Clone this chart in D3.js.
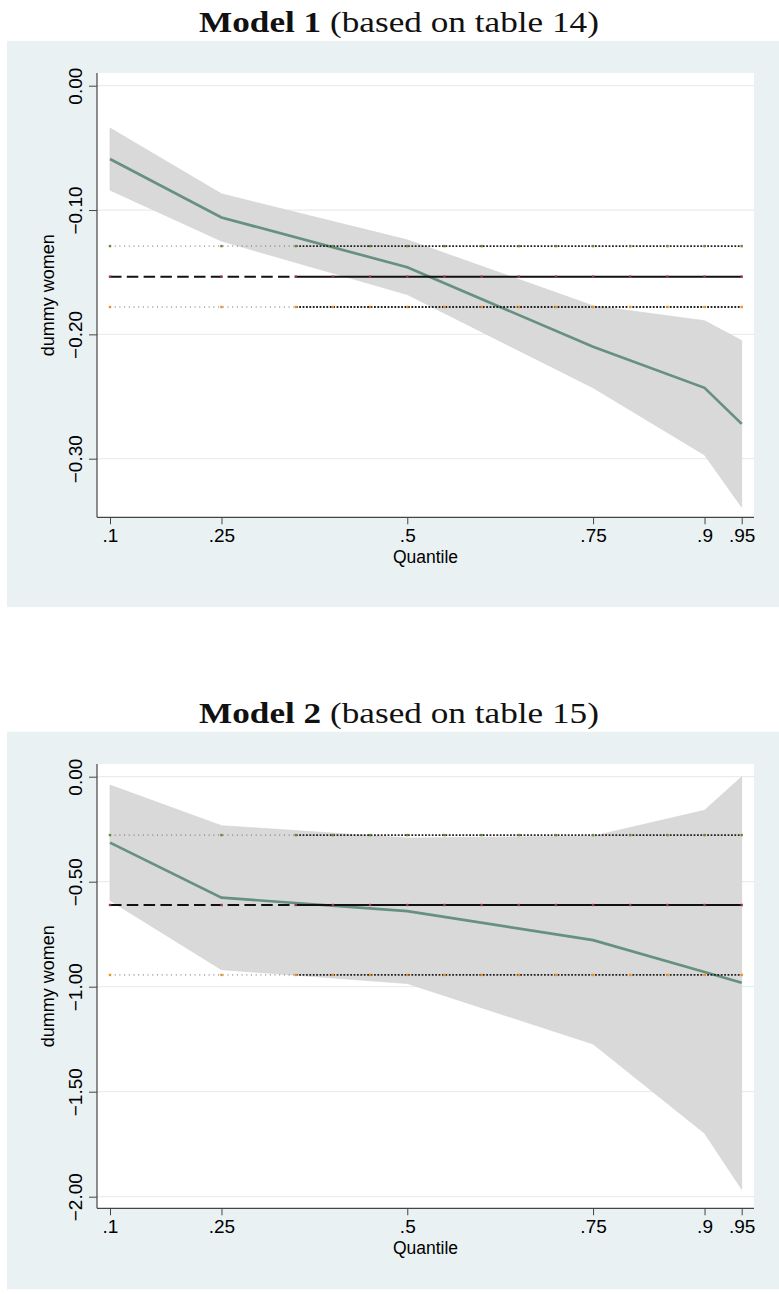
<!DOCTYPE html>
<html><head><meta charset="utf-8">
<script src="https://cdn.jsdelivr.net/npm/d3@7"></script>
<style>body{margin:0;background:#fff}svg{display:block}</style>
</head><body>
<svg id="c" width="779" height="1294"></svg>
<script>
// ---------- data ----------
const quantiles = [0.1, 0.25, 0.5, 0.75, 0.9, 0.95];
const xTickLabels = [".1", ".25", ".5", ".75", ".9", ".95"];
const olsGrid = [0.1, 0.25, 0.35, 0.4, 0.45, 0.5, 0.55, 0.6, 0.65, 0.7, 0.75, 0.8, 0.85, 0.9, 0.95];

const m1Coef  = [-0.059, -0.106, -0.146, -0.210, -0.243, -0.272];
const m1Upper = [-0.034, -0.087, -0.124, -0.177, -0.189, -0.205];
const m1Lower = [-0.084, -0.125, -0.168, -0.243, -0.297, -0.339];
const m1Ols = [-0.1536, -0.129, -0.178];      // estimate, upper, lower
const m1YTicks = [0, -0.1, -0.2, -0.3];
const m1YLabels = ["0.00", "\u22120.10", "\u22120.20", "\u22120.30"];

const m2Coef  = [-0.314, -0.576, -0.640, -0.778, -0.930, -0.981];
const m2Upper = [-0.040, -0.233, -0.292, -0.283, -0.160, 0.000];
const m2Lower = [-0.590, -0.919, -0.985, -1.273, -1.698, -1.965];
const m2Ols = [-0.611, -0.278, -0.944];
const m2YTicks = [0, -0.5, -1, -1.5, -2];
const m2YLabels = ["0.00", "\u22120.50", "\u22121.00", "\u22121.50", "\u22122.00"];

const titles = [
  {bold: "Model 1", rest: " (based on table 14)"},
  {bold: "Model 2", rest: " (based on table 15)"}
];

// ---------- drawing ----------
const svg = d3.select("#c");
const BG = "#eaf1f3", GRID = "#e6eef1", BAND = "#d9d9d9", COEF = "#66907f";
const SANS = "'Liberation Sans', Arial, sans-serif";

function panel(o) {
  const g = svg.append("g");
  // title
  const t = g.append("text").attr("font-family", "'Liberation Serif', 'Times New Roman', serif")
    .attr("font-size", 30).attr("fill", "#111").attr("y", o.titleY);
  t.append("tspan").attr("font-weight", "bold").text(o.title.bold);
  t.append("tspan").text(o.title.rest);
  const w = t.node().getComputedTextLength();
  const sx = 400 / w;
  t.attr("transform", `translate(${399 - 200},0) scale(${sx},1)`).attr("x", 0);

  // background
  g.append("rect").attr("x", 7).attr("y", o.bgTop).attr("width", 772).attr("height", o.bgBottom - o.bgTop).attr("fill", BG);
  const L = 97, R = 754, T = o.plotTop, B = o.plotBottom;
  g.append("rect").attr("x", L).attr("y", T).attr("width", R - L).attr("height", B - T).attr("fill", "#fff");

  const x = d3.scaleLinear().domain([0.1, 0.95]).range([110, 741.7]);
  const y = d3.scaleLinear().domain(o.yDom).range(o.yRange);

  // grid
  g.append("g").selectAll("line").data(o.yTicks).join("line")
    .attr("x1", L).attr("x2", R).attr("y1", d => y(d)).attr("y2", d => y(d))
    .attr("stroke", GRID).attr("stroke-width", 1.3);

  // CI band
  const area = d3.area().x((d, i) => x(quantiles[i])).y0((d, i) => y(o.lower[i])).y1(d => y(d));
  g.append("path").datum(o.upper).attr("d", area).attr("fill", BAND).attr("stroke", "#d2d2d2").attr("stroke-width", 0.6);

  // coefficient line
  const line = d3.line().x((d, i) => x(quantiles[i])).y(d => y(d));
  g.append("path").datum(o.coef).attr("d", line).attr("fill", "none").attr("stroke", COEF).attr("stroke-width", 2.7);

  // OLS lines: sparse pattern until .35, dense afterwards
  const split = olsGrid[2];
  const ols = [
    {v: o.ols[1], c: "#5e8a3a", kind: "dot"},
    {v: o.ols[0], c: "#9a3a48", kind: "dash"},
    {v: o.ols[2], c: "#ee9020", kind: "dot"}
  ];
  ols.forEach(s => {
    const yy = y(s.v);
    if (s.kind === "dash") {
      g.append("line").attr("x1", x(0.1)).attr("x2", x(split)).attr("y1", yy).attr("y2", yy)
        .attr("stroke", "#111").attr("stroke-width", 2).attr("stroke-dasharray", "11.5,5.3");
      g.append("line").attr("x1", x(split)).attr("x2", x(0.95)).attr("y1", yy).attr("y2", yy)
        .attr("stroke", "#111").attr("stroke-width", 2);
    } else {
      g.append("line").attr("x1", x(0.1)).attr("x2", x(split)).attr("y1", yy).attr("y2", yy)
        .attr("stroke", "#666").attr("stroke-width", 1).attr("stroke-dasharray", "1,3.7");
      g.append("line").attr("x1", x(split)).attr("x2", x(0.95)).attr("y1", yy).attr("y2", yy)
        .attr("stroke", "#222").attr("stroke-width", 1.8).attr("stroke-dasharray", "1.8,1.6");
    }
    g.append("g").selectAll("rect").data(olsGrid).join("rect")
      .attr("x", d => x(d) - 1.2).attr("y", yy - 1.2).attr("width", 2.4).attr("height", 2.4).attr("fill", s.c);
  });

  // axes
  const xa = d3.axisBottom(x).tickValues(quantiles).tickFormat((d, i) => xTickLabels[i]).tickSize(7).tickPadding(4);
  const gx = g.append("g").attr("transform", `translate(0,${B})`).call(xa);
  gx.select(".domain").remove();
  gx.selectAll(".tick line").attr("stroke", "#444");
  gx.selectAll(".tick text").attr("font-family", SANS).attr("font-size", 19).attr("fill", "#000");

  const ya = d3.axisLeft(y).tickValues(o.yTicks).tickFormat((d, i) => o.yLabels[i]).tickSize(8);
  const gy = g.append("g").attr("transform", `translate(${L},0)`).call(ya);
  gy.select(".domain").remove();
  gy.selectAll(".tick line").attr("stroke", "#444");
  gy.selectAll(".tick text").attr("font-family", SANS).attr("font-size", 19).attr("fill", "#000")
    .attr("x", 0).attr("dy", 0).attr("text-anchor", "middle")
    .attr("transform", "translate(-15,0) rotate(-90)");

  g.append("line").attr("x1", L).attr("x2", L).attr("y1", T).attr("y2", B).attr("stroke", "#444").attr("stroke-width", 1.2);
  g.append("line").attr("x1", L).attr("x2", R).attr("y1", B).attr("y2", B).attr("stroke", "#444").attr("stroke-width", 1.2);

  // axis titles
  g.append("text").attr("font-family", SANS).attr("font-size", 17.5).attr("text-anchor", "middle")
    .attr("x", (L + R) / 2).attr("y", B + 46).text("Quantile");
  g.append("text").attr("font-family", SANS).attr("font-size", 18).attr("text-anchor", "middle")
    .attr("transform", `translate(54,${(T + B) / 2}) rotate(-90)`).text("dummy women");
}

panel({title: titles[0], titleY: 31.7, bgTop: 41, bgBottom: 607, plotTop: 73, plotBottom: 517.3,
  yDom: [0, -0.3], yRange: [85.7, 458.7], yTicks: m1YTicks, yLabels: m1YLabels,
  coef: m1Coef, upper: m1Upper, lower: m1Lower, ols: m1Ols});
panel({title: titles[1], titleY: 722.7, bgTop: 731.7, bgBottom: 1289.3, plotTop: 764, plotBottom: 1208.3,
  yDom: [0, -2], yRange: [776.7, 1196.7], yTicks: m2YTicks, yLabels: m2YLabels,
  coef: m2Coef, upper: m2Upper, lower: m2Lower, ols: m2Ols});
</script>
</body></html>
